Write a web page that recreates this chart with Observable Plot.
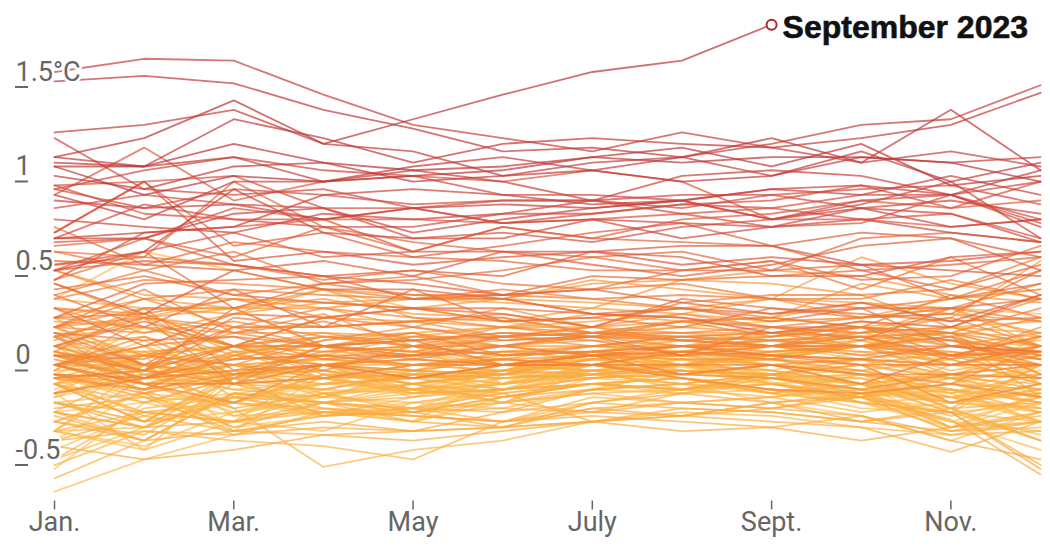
<!DOCTYPE html>
<html>
<head>
<meta charset="utf-8">
<script src="https://cdn.jsdelivr.net/npm/d3@7"></script>
<script src="https://cdn.jsdelivr.net/npm/@observablehq/plot@0.6"></script>
<style>
  html, body { margin: 0; padding: 0; background: #fff; }
  #chart svg { display: block; }
</style>
</head>
<body>
<div id="chart"></div>
<script>
// Monthly temperature anomaly (°C vs. pre-industrial), one row per year, Jan..Dec
const d1850s = [
[-.45,-.18,-.38,-.32,-.28,-.12,-.08,-.06,-.14,-.22,-.30,-.26],
[-.22,-.12,-.15,-.25,-.18,-.05,.02,.05,-.02,.08,-.05,-.12],
[-.30,-.25,-.20,-.22,-.10,.02,.05,.08,.05,-.02,-.12,.10],
[-.05,-.18,-.12,-.20,-.15,-.05,-.08,-.02,-.10,-.05,-.25,-.30],
[-.20,-.10,-.05,-.12,-.18,-.08,-.05,.02,-.05,-.02,-.20,-.05],
[-.10,-.25,-.12,-.05,-.15,-.10,-.02,.00,-.08,.02,-.12,-.28],
[-.12,-.22,-.32,-.20,-.28,-.18,-.15,-.12,-.20,-.25,-.35,-.22],
[-.35,-.20,-.42,-.30,-.35,-.25,-.12,-.15,-.25,-.32,-.45,-.30],
[-.40,-.48,-.30,-.25,-.30,-.18,-.10,-.15,-.20,-.15,-.38,-.25],
[-.15,-.05,-.10,-.08,-.18,-.15,-.08,-.05,-.12,-.10,-.20,-.35]];
const d1860s = [
[-.25,-.35,-.30,-.18,-.20,-.15,-.10,-.12,-.15,-.22,-.40,-.30],
[-.60,-.25,-.35,-.28,-.35,-.10,-.08,-.05,-.15,-.12,-.20,-.10],
[-.72,-.55,-.42,-.30,-.25,-.28,-.18,-.20,-.12,-.20,-.35,-.50],
[-.05,.05,-.10,-.12,-.20,-.15,-.05,-.08,-.12,-.15,-.10,-.05],
[-.50,-.30,-.25,-.32,-.22,-.15,-.05,-.12,-.18,-.28,-.30,-.42],
[-.15,-.30,-.35,-.05,-.10,-.08,.00,-.05,.02,-.05,-.12,-.08],
[.05,-.10,-.18,-.15,-.12,-.05,.02,-.08,-.10,-.15,-.18,-.22],
[-.18,.00,-.40,-.10,-.22,-.08,-.05,-.02,-.10,-.08,-.22,-.35],
[-.55,-.38,-.20,-.15,-.05,-.08,-.02,-.05,-.10,-.15,-.20,-.10],
[-.10,.08,-.15,-.12,-.18,-.15,-.12,-.10,-.05,-.15,-.12,-.20]];
const d1870s = [
[-.15,-.30,-.25,-.15,-.12,-.10,-.02,-.08,-.15,-.22,-.28,-.45],
[-.40,-.50,-.10,-.12,-.18,-.15,-.10,-.05,-.15,-.25,-.30,-.35],
[-.35,-.20,-.25,-.10,-.12,-.05,-.08,-.02,-.05,-.10,-.18,-.25],
[-.12,-.32,-.22,-.25,-.20,-.08,-.05,-.10,-.12,-.18,-.22,-.12],
[.00,-.15,-.25,-.30,-.35,-.22,-.15,-.20,-.18,-.22,-.35,-.40],
[-.20,-.50,-.35,-.40,-.25,-.20,-.15,-.12,-.20,-.25,-.38,-.35],
[-.05,-.15,-.30,-.22,-.25,-.18,-.10,-.08,-.12,-.15,-.30,-.45],
[-.40,-.05,-.12,-.05,.02,.05,.10,.15,.18,.20,.25,.22],
[.30,.55,.45,.35,.25,.18,.12,.10,.08,.00,-.02,-.15],
[-.15,-.10,-.12,-.08,-.15,-.10,-.08,-.05,-.12,-.10,-.18,-.35]];
const d1880s = [
[-.10,-.15,-.05,-.12,-.08,-.18,-.12,-.05,-.15,-.20,-.25,-.18],
[-.25,-.20,-.05,-.02,.05,-.15,.02,-.05,-.12,-.18,-.25,-.15],
[.05,.02,-.05,-.20,-.15,-.25,-.18,-.08,-.10,-.20,-.22,-.30],
[-.30,-.45,-.20,-.25,-.15,-.08,-.05,-.12,-.18,-.25,-.22,-.20],
[-.22,-.05,-.28,-.59,-.50,-.45,-.35,-.30,-.32,-.38,-.42,-.35],
[-.55,-.28,-.22,-.32,-.28,-.35,-.25,-.18,-.15,-.22,-.15,-.05],
[-.40,-.38,-.22,-.15,-.18,-.25,-.08,-.18,-.10,-.18,-.22,-.15],
[-.58,-.40,-.45,-.48,-.55,-.35,-.22,-.25,-.22,-.30,-.25,-.28],
[-.40,-.30,-.35,-.20,-.18,-.12,-.08,-.05,-.02,.05,.00,-.05],
[-.08,.15,.05,.10,.05,-.05,-.05,-.08,-.10,-.15,-.25,-.18]];
const d1890s = [
[-.10,-.22,-.25,-.28,-.30,-.25,-.20,-.25,-.22,-.18,-.38,-.20],
[-.25,-.35,-.12,-.18,-.10,-.15,-.08,-.05,-.08,-.15,-.30,-.05],
[-.30,-.05,-.32,-.30,-.28,-.25,-.30,-.20,-.15,-.22,-.40,-.38],
[-.65,-.45,-.20,-.25,-.30,-.22,-.15,-.12,-.20,-.15,-.22,-.28],
[-.40,-.12,-.08,-.22,-.15,-.25,-.20,-.18,-.22,-.15,-.25,-.20],
[-.35,-.42,-.15,-.12,-.10,-.15,-.10,-.05,-.02,-.10,-.12,-.15],
[-.12,-.08,-.18,-.22,-.08,.02,.05,.02,-.02,.05,-.08,.00],
[-.08,-.05,-.10,.05,.02,-.05,.00,-.02,-.05,-.10,-.18,-.25],
[.05,-.20,-.38,-.25,-.28,-.20,-.15,-.18,-.12,-.20,-.32,-.22],
[-.15,-.35,-.25,-.12,-.20,-.18,-.05,.02,.08,.05,.12,-.15]];
const d1900s = [
[-.12,.00,.05,.02,.00,.02,-.02,-.05,.05,.10,-.05,.02],
[.02,-.08,.05,-.05,-.10,-.12,-.10,-.15,-.18,-.22,-.18,-.30],
[-.05,.05,-.22,-.25,-.28,-.30,-.25,-.28,-.30,-.35,-.28,-.45],
[-.20,.02,-.15,-.28,-.32,-.35,-.32,-.35,-.38,-.32,-.42,-.40],
[-.45,-.40,-.42,-.38,-.40,-.38,-.35,-.32,-.35,-.38,-.51,-.35],
[-.32,-.45,-.20,-.25,-.22,-.18,-.15,-.18,-.15,-.22,-.05,-.05],
[-.15,-.25,-.12,-.05,-.20,-.18,-.15,-.12,-.20,-.10,-.28,-.05],
[-.30,-.38,-.22,-.30,-.32,-.35,-.28,-.32,-.28,-.20,-.38,-.30],
[-.28,-.22,-.40,-.32,-.30,-.28,-.30,-.32,-.25,-.35,-.40,-.35],
[-.45,-.32,-.40,-.42,-.45,-.40,-.35,-.28,-.30,-.35,-.30,-.58]];
const d1910s = [
[-.25,-.30,-.35,-.30,-.32,-.35,-.30,-.25,-.28,-.32,-.45,-.55],
[-.48,-.55,-.50,-.42,-.40,-.38,-.35,-.32,-.25,-.20,-.15,-.18],
[-.20,-.10,-.25,-.10,-.15,-.20,-.35,-.40,-.38,-.45,-.38,-.32],
[-.30,-.38,-.35,-.25,-.35,-.38,-.28,-.25,-.28,-.22,-.12,-.10],
[.05,-.05,-.15,-.18,-.10,-.12,-.10,-.08,-.10,-.02,-.05,.02],
[-.15,.00,-.12,.05,-.08,-.10,.02,-.05,-.08,-.15,-.10,-.05],
[-.10,-.15,-.28,-.20,-.30,-.38,-.25,-.20,-.25,-.22,-.34,-.63],
[-.35,-.45,-.40,-.35,-.40,-.30,-.18,-.15,-.10,-.25,-.30,-.60],
[-.25,-.38,-.12,-.32,-.30,-.22,-.18,-.15,-.10,-.05,-.12,-.22],
[-.05,-.15,-.10,-.05,-.18,-.22,-.15,-.18,-.10,-.12,-.28,-.25]];
const d1920s = [
[.02,-.05,.05,-.10,-.12,-.18,-.12,-.10,-.05,-.10,-.15,-.25],
[.10,-.10,-.05,-.12,-.10,-.08,.02,-.05,.00,.08,-.02,.05],
[.00,-.15,-.05,-.08,-.15,-.10,-.12,-.08,-.10,-.05,.02,-.02],
[-.05,-.08,-.10,-.15,-.12,-.08,-.10,-.05,.00,.05,.15,.05],
[.00,-.12,.00,-.05,-.02,-.05,-.08,-.10,-.05,-.08,-.02,-.15],
[-.10,-.18,.02,.00,-.05,-.02,-.05,.02,.00,.05,.15,.18],
[.30,.25,.25,.05,.00,-.05,-.02,.05,.08,.10,.12,.00],
[.00,-.05,-.10,-.05,-.05,-.02,.05,.02,.10,.15,.12,-.10],
[.12,.00,-.05,-.02,-.05,-.08,.02,.00,.00,.05,.08,.05],
[-.15,-.35,-.10,-.08,-.12,-.10,-.05,-.05,.02,.05,.10,-.22]];
const d1930s = [
[.00,.02,.05,-.02,-.05,.00,.02,.08,.10,.12,.25,.10],
[.15,.00,.05,.02,.05,.10,.12,.08,.05,.12,.05,.08],
[.20,-.05,.00,.10,.05,.00,.02,.05,.12,.10,.00,.05],
[-.05,-.05,-.10,-.05,-.08,-.10,-.02,.00,-.05,-.02,-.10,-.18],
[.05,.10,-.02,.00,.10,.05,.08,.05,.05,.08,.12,.10],
[-.08,.20,.02,-.12,-.05,-.05,.00,.02,-.02,.05,-.10,.00],
[.00,-.12,.02,.05,.08,.05,.10,.12,.08,.12,.15,.12],
[.10,.15,.00,.10,.12,.15,.18,.22,.30,.28,.22,.12],
[.25,.20,.30,.25,.15,.10,.12,.18,.20,.28,.25,.05],
[.18,.15,.05,.12,.10,.15,.15,.12,.12,.15,.20,.50]];
const d1940s = [
[.08,.25,.22,.28,.25,.30,.28,.25,.30,.20,.30,.35],
[.20,.30,.25,.35,.32,.30,.40,.35,.30,.52,.38,.30],
[.38,.20,.25,.25,.30,.28,.25,.22,.18,.20,.22,.18],
[.10,.22,.05,.20,.18,.15,.22,.18,.20,.38,.30,.35],
[.45,.32,.30,.28,.30,.30,.38,.40,.45,.42,.32,.28],
[.25,.12,.22,.35,.20,.18,.25,.40,.38,.32,.15,.05],
[.20,.15,.12,.22,.05,.00,.02,.00,.05,.05,.00,-.12],
[.00,.00,.12,.12,.05,.15,.10,.08,.10,.18,.12,.00],
[.15,-.05,-.02,.08,.12,.05,.05,.05,.02,.05,.00,-.05],
[.10,-.05,.05,.05,.02,-.02,.00,.00,.02,.05,.02,-.05]];
const d1950s = [
[-.12,-.18,.00,-.05,.00,.05,.00,-.02,-.02,-.08,-.15,.05],
[-.10,-.20,-.12,.05,.10,.10,.15,.18,.20,.15,.10,.20],
[.25,.22,.05,.10,.05,.08,.10,.10,.12,.05,-.05,.05],
[.15,.25,.25,.30,.22,.20,.12,.15,.12,.15,.05,.12],
[-.05,.10,-.10,.00,-.05,-.02,-.05,.02,.05,.05,.10,-.10],
[.10,-.15,-.25,-.05,-.08,-.02,-.05,.02,-.02,-.05,-.25,-.15],
[-.05,-.18,-.10,-.05,-.12,-.05,-.05,-.10,-.12,-.18,-.10,-.05],
[-.05,.00,-.05,.08,.15,.25,.15,.22,.15,.12,.15,.30],
[.45,.30,.15,.15,.18,.10,.15,.08,.05,.10,.12,.05],
[.15,.12,.18,.10,.08,.12,.10,.08,.05,.02,.00,.10]];
const d1960s = [
[.05,.20,-.15,.05,.02,.10,.05,.10,.12,.10,-.02,.15],
[.10,.20,.15,.15,.18,.20,.12,.10,.08,.05,.10,-.02],
[.15,.20,.12,.05,-.02,.05,.10,.05,.08,.10,.08,.02],
[.02,.25,-.08,.02,.05,.05,.12,.18,.15,.12,.20,.05],
[.00,-.08,-.15,-.12,-.05,-.05,-.05,-.12,-.18,-.20,-.15,-.22],
[.05,-.08,.05,-.08,.05,.00,.02,.05,.00,-.02,-.05,.05],
[-.05,.05,.10,-.02,.00,.10,.12,.08,.05,.00,.05,.02],
[.02,-.08,.15,.05,.12,.00,.05,.10,.05,.15,.00,.02],
[-.12,-.08,.25,.05,.00,.02,.02,.05,.05,.10,.00,.02],
[.00,-.02,.15,.25,.20,.15,.12,.12,.15,.20,.25,.38]];
const d1970s = [
[.15,.35,.12,.18,.08,.10,.08,.00,.05,.05,.05,.00],
[-.02,-.12,-.08,-.05,-.02,-.05,.00,.02,.00,-.02,.05,-.02],
[-.20,-.12,.05,.05,.08,.12,.10,.18,.10,.15,.12,.25],
[.30,.40,.38,.35,.30,.30,.22,.20,.15,.15,.08,-.05],
[-.10,-.12,-.02,.00,.00,.05,.00,.05,.00,-.05,-.05,-.05],
[.12,.08,.10,.05,.08,-.05,.00,-.10,-.05,-.10,-.10,-.12],
[-.05,-.15,-.15,-.05,-.12,-.05,-.05,-.05,-.05,-.15,.00,.10],
[.15,.30,.35,.32,.30,.35,.30,.25,.20,.15,.32,.20],
[.20,.22,.30,.20,.15,.08,.10,.00,.15,.08,.25,.18],
[.12,-.05,.20,.15,.18,.22,.15,.28,.32,.32,.35,.52]];
const d1980s = [
[.32,.45,.32,.38,.42,.32,.30,.32,.30,.30,.40,.30],
[.55,.45,.55,.38,.32,.32,.35,.38,.30,.25,.30,.45],
[.05,.18,.05,.20,.25,.18,.20,.15,.25,.20,.22,.45],
[.55,.52,.48,.40,.45,.38,.35,.45,.50,.35,.52,.32],
[.32,.15,.35,.15,.35,.18,.20,.25,.22,.25,.05,.02],
[.25,.05,.22,.20,.25,.22,.15,.30,.25,.22,.18,.20],
[.35,.42,.32,.28,.25,.25,.22,.25,.18,.25,.25,.30],
[.40,.55,.25,.38,.40,.45,.52,.45,.50,.40,.42,.58],
[.68,.48,.60,.55,.52,.50,.45,.45,.45,.48,.30,.38],
[.20,.38,.40,.42,.30,.32,.42,.40,.42,.45,.35,.48]];
const d1990s = [
[.48,.52,.92,.68,.60,.55,.52,.55,.45,.62,.65,.60],
[.58,.62,.52,.68,.55,.68,.62,.60,.58,.45,.48,.52],
[.50,.48,.45,.35,.35,.30,.22,.20,.12,.18,.15,.32],
[.45,.50,.48,.42,.38,.32,.35,.28,.22,.28,.18,.32],
[.38,.22,.45,.50,.42,.55,.48,.42,.48,.58,.62,.52],
[.65,.92,.58,.65,.52,.58,.65,.70,.58,.65,.62,.45],
[.45,.62,.48,.42,.45,.42,.55,.52,.42,.42,.52,.55],
[.48,.55,.65,.52,.55,.68,.62,.72,.75,.82,.78,.82],
[.85,1.10,.82,.92,.95,.92,.98,.92,.72,.72,.68,.72],
[.65,.92,.50,.55,.48,.52,.55,.48,.52,.48,.50,.55]];
const d2000s = [
[.40,.65,.68,.72,.55,.55,.55,.58,.58,.48,.45,.42],
[.60,.62,.78,.72,.72,.70,.72,.75,.68,.70,.85,.72],
[.90,.92,.95,.78,.78,.82,.82,.75,.78,.72,.75,.62],
[.90,.75,.72,.72,.78,.70,.75,.80,.82,.90,.78,.92],
[.78,.85,.80,.78,.62,.65,.60,.68,.72,.82,.85,.70],
[.88,.78,.88,.85,.80,.82,.82,.78,.85,.88,.90,.80],
[.62,.80,.72,.68,.68,.75,.75,.80,.78,.85,.85,.92],
[1.15,.88,.85,.88,.78,.70,.72,.70,.68,.72,.65,.60],
[.45,.55,.88,.65,.62,.62,.72,.62,.68,.78,.75,.60],
[.72,.68,.65,.75,.72,.75,.82,.85,.85,.78,.82,.75]];
const d2010s = [
[.88,.98,1.05,.98,.95,.85,.85,.82,.72,.80,.92,.62],
[.62,.62,.75,.78,.65,.72,.78,.82,.72,.78,.68,.72],
[.62,.65,.68,.85,.88,.85,.80,.82,.88,.90,.85,.68],
[.82,.78,.80,.72,.78,.80,.78,.82,.88,.85,.95,.85],
[.85,.72,.92,.92,.98,.92,.82,.95,.98,.95,.85,.98],
[1.05,1.00,1.05,.92,1.00,1.05,.98,1.05,1.12,1.22,1.25,1.43],
[1.50,1.57,1.56,1.38,1.22,1.15,1.08,1.18,1.10,1.02,1.08,1.00],
[1.18,1.22,1.30,1.12,1.08,.95,1.02,1.05,.95,1.05,1.02,1.05],
[.95,.88,1.00,1.02,.92,.95,.98,.92,.95,1.08,.92,1.02],
[1.00,1.00,1.25,1.15,1.02,1.12,1.15,1.12,1.10,1.15,1.22,1.39]];
const d2020s = [
[1.45,1.48,1.44,1.30,1.20,1.08,1.10,1.05,1.15,1.02,1.30,.98],
[1.00,.85,.95,.92,.95,.98,1.05,1.02,1.05,1.05,1.02,.92],
[1.02,1.00,1.12,1.02,.98,1.00,1.05,1.10,1.00,1.12,.90,.95],
[1.05,1.15,1.35,1.12,1.25,1.38,1.50,1.56,1.75]];

const decadeStarts = [1850,1860,1870,1880,1890,1900,1910,1920,1930,1940,1950,1960,1970,1980,1990,2000,2010,2020];
const decades = [d1850s,d1860s,d1870s,d1880s,d1890s,d1900s,d1910s,d1920s,d1930s,d1940s,d1950s,d1960s,d1970s,d1980s,d1990s,d2000s,d2010s,d2020s];

const tickMonths = [1,3,5,7,9,11];
const tickLabels = ["Jan.","Mar.","May","July","Sept.","Nov."];
const yTicks = [-0.5,0,0.5,1,1.5];
const yTickLabels = ["-0.5","0","0.5","1","1.5°C"];
const colorYears = [1850,1930,1980,2005,2023];
const colorStops = ["#fdc35a","#f9a53c","#ee7a38","#d24c3e","#bb3539"];
const highlightLabel = "September 2023";

const rows = [];
decades.forEach((dec, di) => {
  dec.forEach((vals, yi) => {
    const year = decadeStarts[di] + yi;
    vals.forEach((v, mi) => rows.push({year, month: mi + 1, value: v}));
  });
});
const lastYear = d3.max(rows, d => d.year);
const lastRows = rows.filter(d => d.year === lastYear);
const lastPoint = [lastRows[lastRows.length - 1]];

const font = "Roboto, 'Liberation Sans', sans-serif";

const chart = Plot.plot({
  width: 1050,
  height: 549,
  marginLeft: 54,
  marginRight: 10,
  marginTop: 14.8,
  marginBottom: 48.5,
  x: {domain: [1, 12], axis: null},
  y: {domain: [-0.77, 1.8], axis: null},
  color: {type: "linear", domain: colorYears, range: colorStops},
  style: {fontFamily: font, background: "white", overflow: "visible"},
  marks: [
    Plot.line(rows, {x: "month", y: "value", z: "year", stroke: "year", strokeWidth: 1.8, strokeOpacity: 0.7}),
    Plot.axisX({ticks: tickMonths, tickFormat: d => tickLabels[tickMonths.indexOf(d)], tickSize: 9, tickPadding: 2, fontSize: 27, color: "#666", strokeWidth: 1.5, label: null}),
    Plot.text(yTicks, {y: d => d, text: (d, i) => yTickLabels[i], frameAnchor: "left", dx: -39, textAnchor: "start", fontSize: 27, fill: "#666", stroke: "white", strokeWidth: 5, paintOrder: "stroke"}),
    Plot.axisY({ticks: yTicks, tickSize: 13, tickPadding: 0, dx: -26, dy: 15, tickFormat: () => "", stroke: "#666", strokeWidth: 2, label: null}),
    Plot.dot(lastPoint, {x: "month", y: "value", r: 5, stroke: "#a8282d", fill: "white", strokeWidth: 2}),
    Plot.text(lastPoint, {x: "month", y: "value", text: () => highlightLabel, dx: 11, dy: 3, textAnchor: "start", fontSize: 32, fontWeight: "bold", fontFamily: "'Liberation Sans', Arial, sans-serif", fill: "#111", stroke: "#111", strokeWidth: 0.6})
  ]
});
document.getElementById("chart").append(chart);
</script>
</body>
</html>
